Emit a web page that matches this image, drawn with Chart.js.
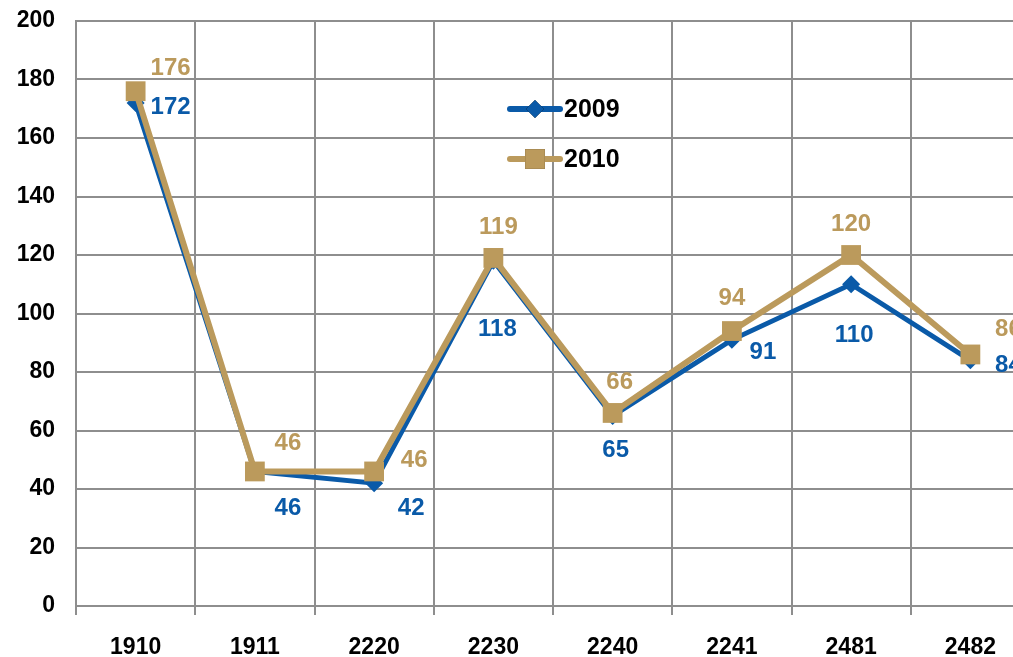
<!DOCTYPE html>
<html>
<head>
<meta charset="utf-8">
<script src="https://cdn.jsdelivr.net/npm/chart.js@4"></script>
<style>
  html, body { margin: 0; padding: 0; background: #fff; overflow: hidden; }
  #chart { display: block; }
</style>
</head>
<body>
<canvas id="chart" width="1044" height="657"></canvas>
<script>
// categories and values
const categories = ["1910", "1911", "2220", "2230", "2240", "2241", "2481", "2482"];
const values2009 = [172, 46, 42, 118, 65, 91, 110, 84];
const values2010 = [176, 46, 46, 119, 66, 94, 120, 86];
const yTicks = [0, 20, 40, 60, 80, 100, 120, 140, 160, 180, 200];

const BLUE = "#0a5aa8";
const TAN = "#bb9a5c";
const GRID = "#8e8e8e";
const FONT = "'Liberation Sans', Arial, sans-serif";

// where each value label sits relative to its point
const labelOffsets = {
  "2009": [[35, 4], [33, 37], [37, 25], [4, 69], [3, 34], [31, 13], [3, 51], [38, 5]],
  "2010": [[35, -23], [33, -28], [40, -11], [5, -31], [7, -31], [0, -33], [0, -31], [38, -25]],
};

// value labels next to each point
const valueLabels = {
  id: "valueLabels",
  afterDatasetsDraw(chart) {
    const ctx = chart.ctx;
    ctx.save();
    ctx.font = "bold 24px " + FONT;
    ctx.textAlign = "center";
    ctx.textBaseline = "middle";
    chart.data.datasets.forEach((ds, i) => {
      const meta = chart.getDatasetMeta(i);
      const offs = labelOffsets[ds.label];
      ctx.fillStyle = ds.borderColor;
      meta.data.forEach((pt, j) => {
        ctx.fillText(String(ds.data[j]), pt.x + offs[j][0], pt.y + offs[j][1]);
      });
    });
    ctx.restore();
  },
};

// legend drawn inside the plot, like the original
const innerLegend = {
  id: "innerLegend",
  afterDraw(chart) {
    const ctx = chart.ctx;
    const rows = [{ y: 109 }, { y: 159 }];
    ctx.save();
    chart.data.datasets.forEach((ds, i) => {
      const y = rows[i].y;
      ctx.strokeStyle = ds.borderColor;
      ctx.lineWidth = 6;
      ctx.lineCap = "round";
      ctx.beginPath();
      ctx.moveTo(510, y);
      ctx.lineTo(560, y);
      ctx.stroke();
      Chart.helpers.drawPoint(ctx, {
        pointStyle: ds.pointStyle,
        radius: ds.pointRadius,
        borderWidth: 0,
      }, 535, y);
      ctx.fillStyle = ds.borderColor;
      ctx.fill();
      ctx.fillStyle = "#000";
      ctx.font = "bold 25px " + FONT;
      ctx.textAlign = "left";
      ctx.textBaseline = "middle";
      ctx.fillText(ds.label, 564, y + 1);
    });
    ctx.restore();
  },
};

new Chart(document.getElementById("chart"), {
  type: "line",
  data: {
    labels: categories,
    datasets: [
      {
        label: "2009",
        data: values2009,
        borderColor: BLUE,
        backgroundColor: BLUE,
        borderWidth: 5,
        pointStyle: "rectRot",
        pointRadius: 9,
        pointBorderWidth: 0,
        order: 2,
      },
      {
        label: "2010",
        data: values2010,
        borderColor: TAN,
        backgroundColor: TAN,
        borderWidth: 6,
        pointStyle: "rect",
        pointRadius: 14,
        pointBorderWidth: 0,
        order: 1,
      },
    ],
  },
  options: {
    responsive: false,
    animation: false,
    layout: { padding: { top: 21, right: 2, left: 0, bottom: 0 } },
    plugins: {
      legend: { display: false },
      tooltip: { enabled: false },
    },
    scales: {
      x: {
        offset: true,
        grid: { offset: true, color: GRID, lineWidth: 2, tickLength: 9, drawTicks: true },
        border: { color: GRID, width: 2 },
        ticks: {
          color: "#000",
          font: { family: FONT, size: 23, weight: "bold" },
          padding: 19,
          maxRotation: 0,
        },
        afterFit(scale) {
          scale.height = 51;
          scale.paddingLeft = 0;
          scale.paddingRight = 0;
        },
      },
      y: {
        min: 0,
        max: 200,
        afterBuildTicks(scale) { scale.ticks = yTicks.map((v) => ({ value: v })); },
        grid: { color: GRID, lineWidth: 2, drawTicks: false },
        border: { color: GRID, width: 2 },
        ticks: {
          color: "#000",
          font: { family: FONT, size: 23, weight: "bold" },
          padding: 21,
        },
        afterFit(scale) {
          scale.width = 76;
          scale.paddingTop = 0;
          scale.paddingBottom = 0;
        },
      },
    },
  },
  plugins: [valueLabels, innerLegend],
});
</script>
</body>
</html>
